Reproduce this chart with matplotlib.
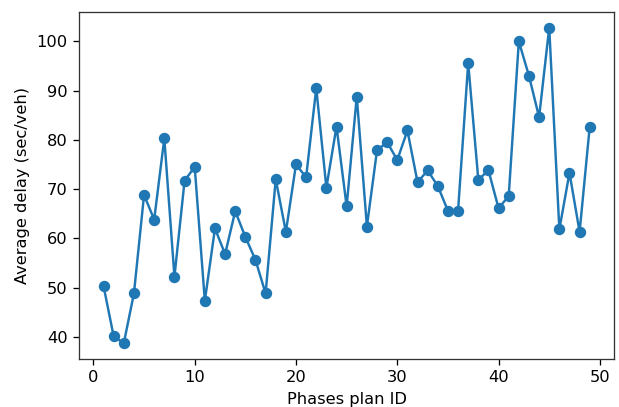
import matplotlib
matplotlib.use("Agg")
import matplotlib.pyplot as plt

plan_ids = list(range(1, 50))
avg_delay = [50.3, 40.1, 38.7, 48.8, 68.8, 63.8, 80.3, 52.2, 71.7, 74.5,
             47.3, 62.0, 56.8, 65.5, 60.3, 55.6, 48.8, 72.0, 61.3, 75.0,
             72.4, 90.5, 70.3, 82.7, 66.5, 88.8, 62.4, 77.9, 79.5, 75.9,
             81.9, 71.4, 73.8, 70.6, 65.6, 65.6, 95.6, 71.9, 73.8, 66.1,
             68.6, 100.0, 93.0, 84.6, 102.8, 61.8, 73.3, 61.3, 82.7]

DPI = 117
fig = plt.figure(figsize=(619 / DPI, 407 / DPI), dpi=DPI)
ax = fig.add_axes([0.128, 0.118, 0.864, 0.853])
ax.plot(plan_ids, avg_delay, marker='o', color='#1f77b4')
ax.set_xlabel('Phases plan ID')
ax.set_ylabel('Average delay (sec/veh)')
for s in ax.spines.values():
    s.set_color('#333333')
fig.savefig('out.png', dpi=DPI)
